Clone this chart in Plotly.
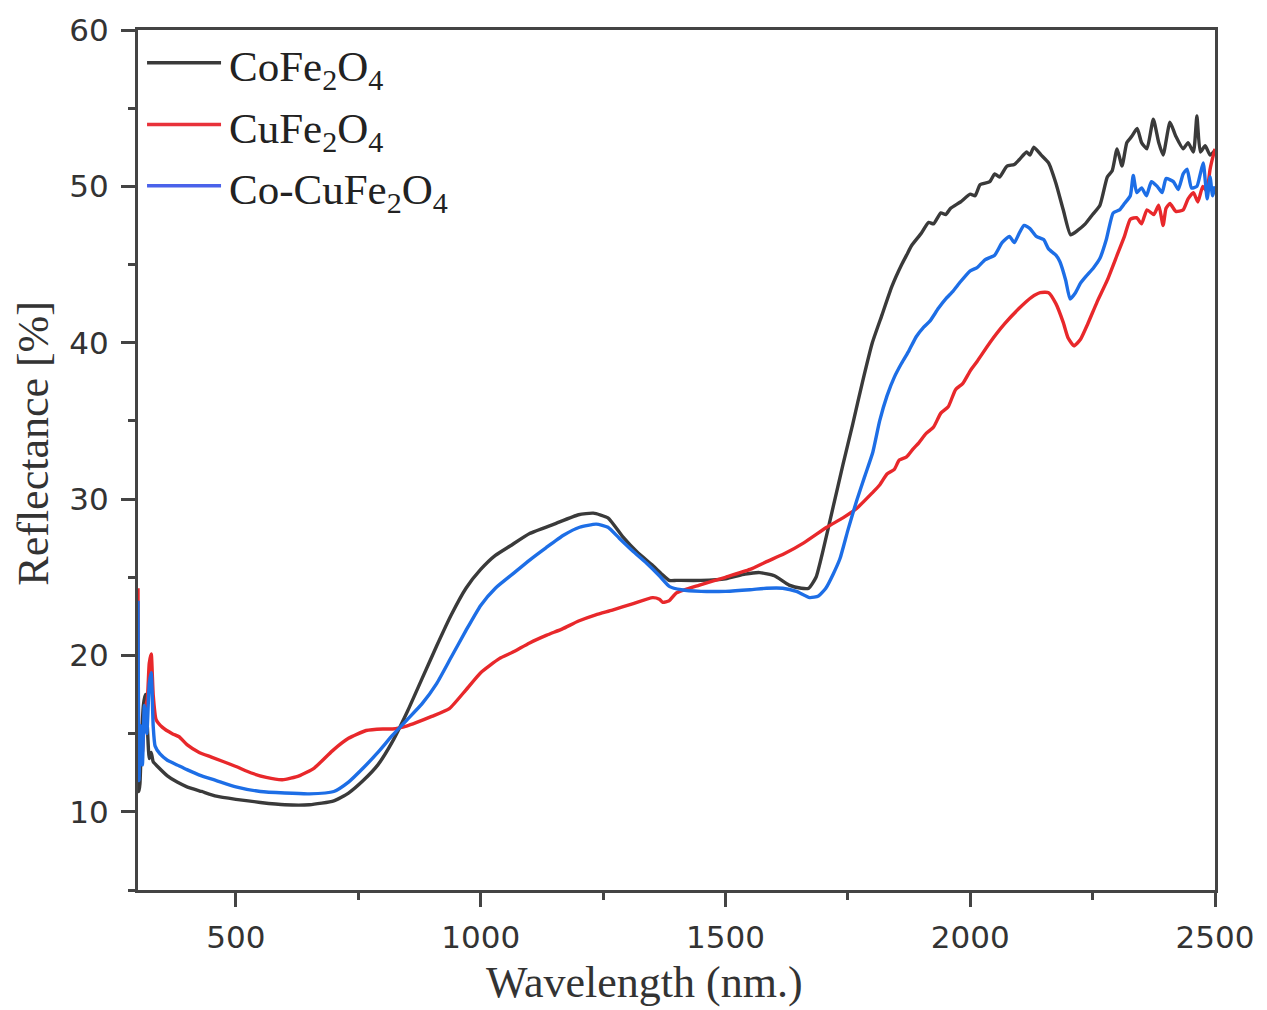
import plotly.graph_objects as go

# ---------------- data ----------------
co_x = [300, 302, 304, 307, 311, 315, 319, 323, 327, 331, 340, 360, 380, 400, 430, 460, 500, 550, 600, 650,
        700, 730, 760, 790, 820, 850, 880, 910, 940, 970, 1000, 1030, 1060, 1100, 1150, 1200, 1230, 1260, 1290,
        1320, 1350, 1370, 1385, 1400, 1450, 1500, 1540, 1570, 1600, 1630, 1655, 1670, 1685, 1700, 1720, 1740,
        1760, 1780, 1800, 1820, 1840, 1860, 1870, 1880, 1900, 1915, 1925, 1940, 1950, 1960, 1980, 2000, 2010,
        2020, 2040, 2050, 2060, 2075, 2090, 2100, 2115, 2122, 2130, 2145, 2160, 2175, 2190, 2205, 2220, 2235,
        2250, 2265, 2280, 2290, 2300, 2310, 2320, 2330, 2341, 2350, 2361, 2374, 2385, 2394, 2408, 2420, 2435,
        2445, 2456, 2463, 2470, 2480, 2490, 2500]
co_y = [15.0, 11.3, 11.8, 14.5, 16.8, 17.5, 15.5, 13.4, 13.8, 13.2, 12.9, 12.3, 11.9, 11.6, 11.3, 11.0, 10.8,
        10.6, 10.45, 10.45, 10.7, 11.2, 12.0, 13.0, 14.5, 16.4, 18.5, 20.6, 22.6, 24.3, 25.5, 26.4, 27.0, 27.8,
        28.4, 29.0, 29.1, 28.8, 27.6, 26.6, 25.8, 25.2, 24.8, 24.8, 24.8, 24.9, 25.2, 25.3, 25.1, 24.5, 24.3,
        24.3, 25.0, 26.8, 29.5, 32.2, 34.8, 37.5, 40.0, 41.8, 43.6, 45.0, 45.6, 46.2, 47.0, 47.7, 47.6, 48.3,
        48.2, 48.6, 49.0, 49.5, 49.4, 50.1, 50.3, 50.8, 50.6, 51.3, 51.4, 51.7, 52.2, 52.0, 52.5, 52.0, 51.5,
        50.2, 48.5, 46.9, 47.2, 47.6, 48.2, 48.8, 50.6, 51.0, 52.4, 51.3, 52.8, 53.2, 53.7, 52.8, 52.4, 54.3,
        52.8, 52.0, 54.1, 53.2, 52.4, 52.8, 52.2, 54.5, 52.2, 52.6, 52.0, 52.3]

cu_x = [300, 302, 305, 309, 314, 319, 323, 327, 331, 337, 350, 370, 384, 400, 425, 450, 500, 530, 562, 595,
        629, 660, 697, 730, 766, 800, 820, 850, 868, 900, 936, 970, 1000, 1038, 1065, 1100, 1135, 1167, 1200,
        1235, 1269, 1310, 1351, 1365, 1372, 1385, 1400, 1447, 1500, 1550, 1584, 1620, 1660, 1707, 1740, 1768,
        1800, 1815, 1830, 1845, 1855, 1870, 1883, 1895, 1910, 1925, 1940, 1955, 1970, 1985, 2000, 2014, 2040,
        2070, 2100, 2125, 2143, 2160, 2175, 2190, 2200, 2212, 2225, 2240, 2259, 2280, 2300, 2315, 2327, 2340,
        2350, 2361, 2375, 2385, 2394, 2400, 2408, 2420, 2435, 2445, 2456, 2465, 2475, 2483, 2490, 2495, 2500]
cu_y = [24.3, 13.5, 14.8, 13.8, 16.5, 17.2, 19.5, 20.1, 17.5, 15.9, 15.4, 15.0, 14.8, 14.3, 13.8, 13.5, 12.9,
        12.5, 12.2, 12.05, 12.3, 12.8, 13.9, 14.7, 15.2, 15.3, 15.3, 15.5, 15.7, 16.1, 16.6, 17.8, 18.9, 19.8,
        20.2, 20.8, 21.3, 21.7, 22.2, 22.6, 22.9, 23.3, 23.7, 23.6, 23.4, 23.5, 24.0, 24.5, 25.0, 25.5, 26.0,
        26.5, 27.2, 28.2, 28.8, 29.4, 30.4, 30.9, 31.6, 31.9, 32.5, 32.7, 33.2, 33.6, 34.2, 34.6, 35.5, 35.9,
        37.0, 37.4, 38.2, 38.8, 40.0, 41.2, 42.2, 42.9, 43.2, 43.2, 42.5, 41.3, 40.3, 39.8, 40.2, 41.2, 42.6,
        44.0, 45.6, 46.8, 47.9, 48.0, 47.6, 48.5, 48.2, 48.8, 47.5, 48.6, 48.9, 48.4, 48.5, 49.2, 49.6, 49.0,
        50.0, 49.7, 51.1, 51.8, 52.4]

cocu_x = [300, 302, 305, 309, 313, 318, 323, 327, 331, 335, 345, 360, 380, 400, 430, 460, 500, 550, 600, 650,
          700, 730, 760, 790, 820, 850, 880, 910, 940, 970, 1000, 1030, 1065, 1100, 1134, 1170, 1202, 1236, 1260,
          1283, 1310, 1339, 1365, 1386, 1410, 1450, 1500, 1550, 1584, 1617, 1645, 1672, 1690, 1705, 1720, 1734,
          1750, 1768, 1785, 1801, 1815, 1830, 1845, 1860, 1875, 1890, 1905, 1918, 1935, 1950, 1965, 1980, 2000,
          2014, 2030, 2050, 2065, 2080, 2090, 2100, 2110, 2122, 2135, 2150, 2160, 2175, 2183, 2195, 2204, 2215,
          2225, 2238, 2252, 2265, 2278, 2292, 2305, 2315, 2327, 2333, 2340, 2350, 2360, 2370, 2382, 2392, 2400,
          2415, 2425, 2435, 2443, 2452, 2463, 2470, 2476, 2484, 2490, 2495, 2500]
cocu_y = [23.5, 12.0, 15.5, 13.0, 16.8, 15.0, 18.2, 18.9, 15.5, 14.2, 13.7, 13.3, 13.0, 12.7, 12.3, 12.0, 11.6,
          11.3, 11.2, 11.15, 11.3, 11.9, 12.8, 13.8, 14.9, 15.9, 16.9, 18.2, 19.9, 21.6, 23.2, 24.3, 25.2, 26.1,
          26.9, 27.7, 28.2, 28.4, 28.2, 27.5, 26.7, 25.9, 25.1, 24.4, 24.2, 24.1, 24.1, 24.2, 24.3, 24.3, 24.1,
          23.7, 23.8, 24.3, 25.2, 26.2, 28.0, 29.9, 31.5, 33.0, 35.0, 36.6, 37.8, 38.7, 39.5, 40.4, 41.0, 41.4,
          42.2, 42.8, 43.3, 43.9, 44.6, 44.8, 45.3, 45.6, 46.4, 46.8, 46.4, 47.0, 47.5, 47.3, 46.8, 46.6, 46.0,
          45.6, 45.2, 44.0, 42.8, 43.2, 43.8, 44.3, 44.8, 45.4, 46.6, 48.3, 48.5, 48.9, 49.4, 50.7, 49.6, 49.9,
          49.4, 50.3, 50.0, 49.6, 50.5, 50.3, 49.8, 50.8, 51.1, 49.9, 50.0, 50.8, 51.5, 49.2, 50.6, 49.4, 50.0]

series_names = ["CoFe<sub>2</sub>O<sub>4</sub>", "CuFe<sub>2</sub>O<sub>4</sub>", "Co-CuFe<sub>2</sub>O<sub>4</sub>"]
series_colors = ["#3a3a3a", "#e8282b", "#1d6ee6"]
legend_colors = ["#3a3a3a", "#e8323a", "#4a62ea"]

x_title = "Wavelength (nm.)"
y_title = "Reflectance [%]"

# ---------------- figure ----------------
fig = go.Figure()
for xs, ys, name, col in [(co_x, co_y, series_names[0], series_colors[0]),
                          (cu_x, cu_y, series_names[1], series_colors[1]),
                          (cocu_x, cocu_y, series_names[2], series_colors[2])]:
    fig.add_trace(go.Scatter(x=xs, y=ys, mode="lines", name=name,
                             line=dict(color=col, width=3.4, shape="spline", smoothing=0.5),
                             showlegend=False))

# hand-drawn legend (long line samples, as in the reference)
leg_y = [0.962, 0.890, 0.819]
for i in range(3):
    fig.add_shape(type="line", xref="paper", yref="paper",
                  x0=0.0084, x1=0.0771, y0=leg_y[i], y1=leg_y[i],
                  line=dict(color=legend_colors[i], width=3.5))
    fig.add_annotation(xref="paper", yref="paper", x=0.0830, y=leg_y[i] - 0.009,
                       xanchor="left", yanchor="middle", showarrow=False,
                       text=series_names[i],
                       font=dict(family="Liberation Serif", size=43, color="#222222"))

fig.add_annotation(xref="paper", yref="paper", x=0.470, y=-0.108, xanchor="center", yanchor="middle",
                   showarrow=False, text=x_title,
                   font=dict(family="Liberation Serif", size=44, color="#333333"))
fig.add_annotation(xref="paper", yref="paper", x=-0.0967, y=0.520, xanchor="center", yanchor="middle",
                   showarrow=False, text=y_title, textangle=-90,
                   font=dict(family="Liberation Serif", size=44, color="#333333"))

axis_common = dict(showline=True, linecolor="#444444", linewidth=3, mirror=True,
                   ticks="outside", tickcolor="#444444", tickwidth=2.5, ticklen=14,
                   showgrid=False, zeroline=False,
                   tickfont=dict(family="DejaVu Sans", size=31, color="#333333"))

fig.update_xaxes(range=[300, 2500], tick0=0, dtick=500,
                 minor=dict(ticks="outside", dtick=250, tick0=0, ticklen=7, tickcolor="#444444", tickwidth=2.5),
                 ticklabelstandoff=4, **axis_common)
fig.update_yaxes(range=[5, 60], tick0=0, dtick=10,
                 minor=dict(ticks="outside", dtick=5, tick0=0, ticklen=7, tickcolor="#444444", tickwidth=2.5),
                 ticklabelstandoff=6, **axis_common)

fig.update_layout(width=1267, height=1010,
                  margin=dict(l=138, r=52, t=25, b=120),
                  paper_bgcolor="white", plot_bgcolor="white")

fig.write_html("out.html")
